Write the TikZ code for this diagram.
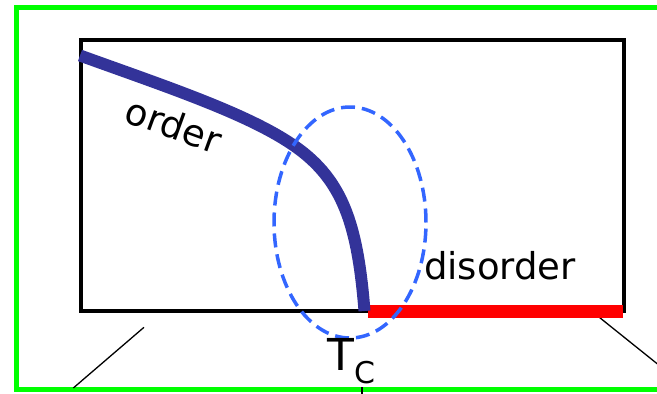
\documentclass[tikz,border=0pt]{standalone}
\usepackage{fontspec}
\setmainfont{DejaVu Sans}
\usetikzlibrary{shapes.geometric}
\definecolor{frameg}{RGB}{0,255,0}
\definecolor{curveblue}{RGB}{51,51,153}
\definecolor{dashblue}{RGB}{51,102,255}
\definecolor{linered}{RGB}{255,0,0}
\begin{document}
\begin{tikzpicture}[x=1pt,y=-1pt,
  greenframe/.style={draw=frameg, line width=5pt},
  plotbox/.style={draw=black, line width=4pt, rectangle, inner sep=0pt, minimum width=543.5pt, minimum height=271.3pt},
  critring/.style={draw=dashblue, line width=3.5pt, ellipse, inner sep=0pt, minimum width=152pt, minimum height=231pt, dash pattern=on 14pt off 7pt},
  ordercurve/.style={draw=curveblue, line width=12pt},
  disline/.style={draw=linered, line width=12.5pt},
  thinline/.style={draw=black, line width=1.3pt},
  lbl/.style={inner sep=0pt, font=\fontsize{37}{40}\selectfont}]
\useasboundingbox (0,0) rectangle (657,394);
\clip (0,0) rectangle (657,394);
% outer frame (open on the right, cut by the picture edge)
\draw[greenframe] (690,7.5) -- (16,7.5) -- (16,389.5) -- (690,389.5);
% plot box
\node[plotbox] (box) at (352.25,175.35) {};
% zoom lines
\coordinate (l1) at (144,327.3);
\coordinate (l2) at (73.3,388);
\coordinate (r1) at (599.3,317.3);
\coordinate (r2) at (660,366);
\coordinate (t1) at (362,387);
\coordinate (t2) at (362,396);
\draw[thinline] (l1) -- (l2);
\draw[thinline] (r1) -- (r2);
\draw[thinline] (t1) -- (t2);
% disorder line
\coordinate (d1) at (368.3,311.3);
\coordinate (d2) at (623,311.3);
\draw[disline] (d1) -- (d2);
% order curve
\coordinate (c0) at (80,55.5);
\coordinate (c9) at (364.5,311);
\draw[ordercurve] (c0) .. controls (170,88) and (255,116) .. (300,150)
  .. controls (345,184) and (358,230) .. (c9);
% critical ellipse
\node[critring] (ring) at (350,222.5) {};
% labels
\node[lbl, rotate=-20] (order) at (174,125) {order};
\node[lbl, anchor=base west] (dis) at (424,279) {disorder};
\node[inner sep=0pt, anchor=base west, font=\fontsize{44}{48}\selectfont] (tc) at (327,370) {T\raisebox{-13pt}{\fontsize{30}{32}\selectfont C}};
\end{tikzpicture}
\end{document}
